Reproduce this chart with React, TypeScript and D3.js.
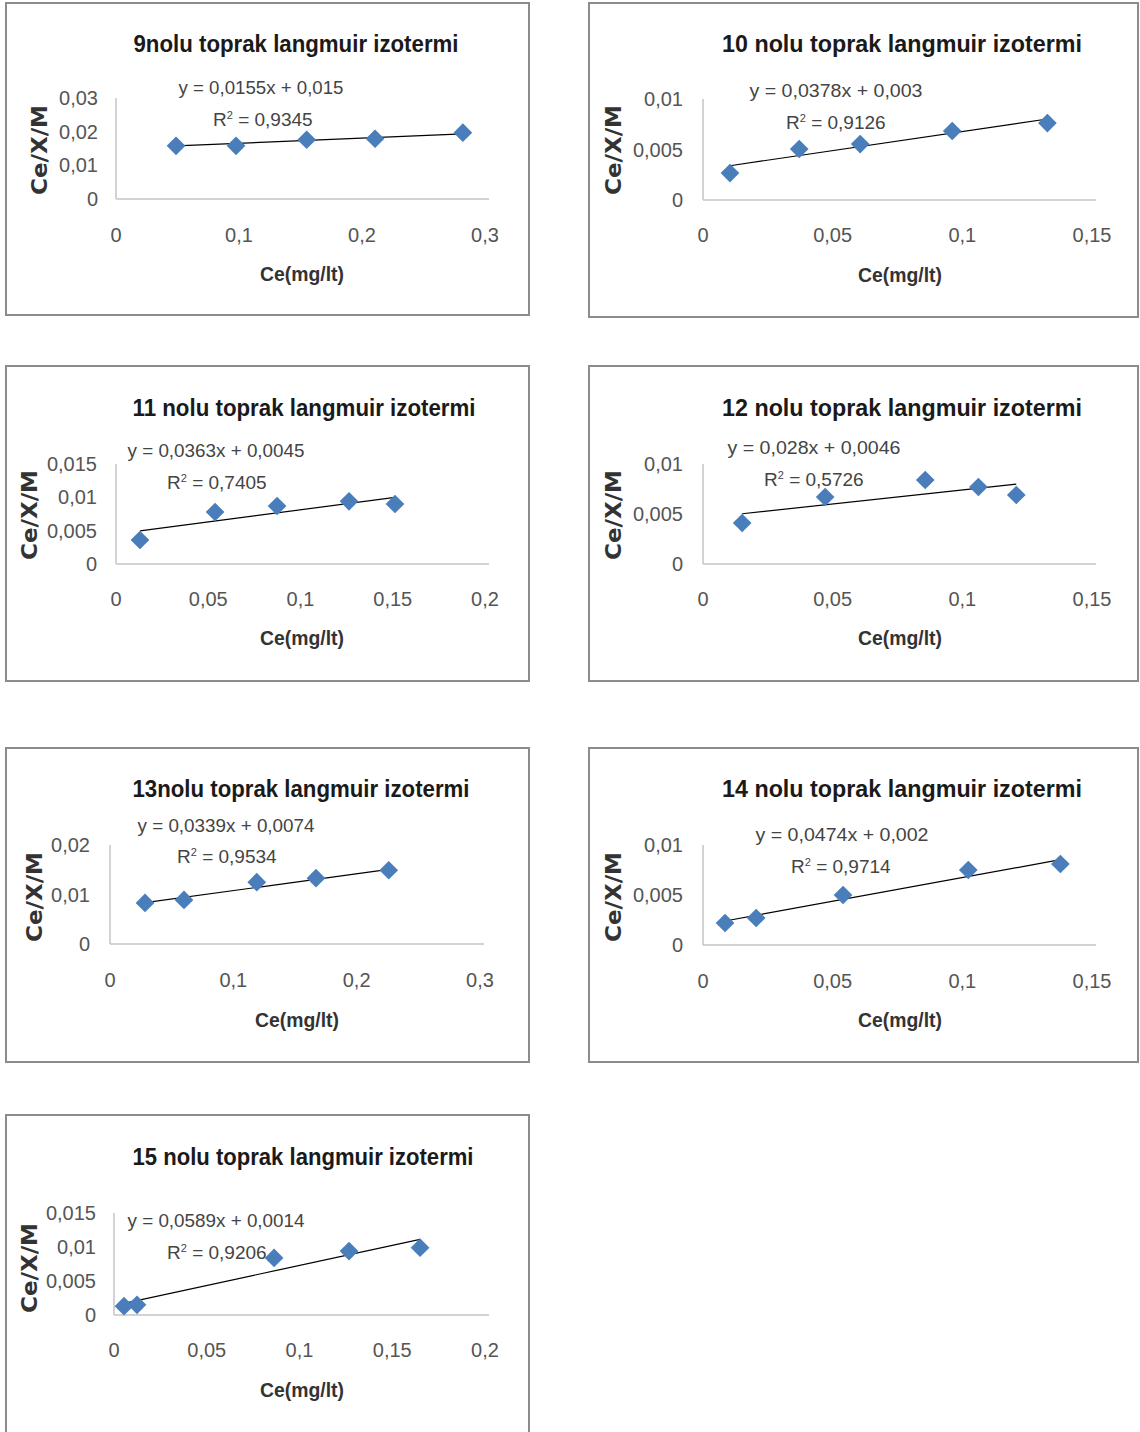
import React from 'react';
import * as d3 from 'd3';

// ---------- data ----------
const titles = [
  '9nolu toprak langmuir izotermi',
  '10 nolu toprak langmuir izotermi',
  '11 nolu toprak langmuir izotermi',
  '12 nolu toprak langmuir izotermi',
  '13nolu toprak langmuir izotermi',
  '14 nolu toprak langmuir izotermi',
  '15 nolu toprak langmuir izotermi',
];
const ceValues = [
  [0.0488, 0.0976, 0.155, 0.2106, 0.282],
  [0.0104, 0.0371, 0.0606, 0.0961, 0.1328],
  [0.013, 0.0537, 0.0873, 0.1263, 0.1512],
  [0.0151, 0.0471, 0.0857, 0.1062, 0.1208],
  [0.0284, 0.06, 0.119, 0.167, 0.226],
  [0.0085, 0.0205, 0.054, 0.1023, 0.1378],
  [0.0054, 0.0124, 0.0863, 0.1267, 0.165],
];
const qValues = [
  [0.0158, 0.0158, 0.0176, 0.0179, 0.0197],
  [0.00267, 0.00505, 0.00554, 0.00683, 0.00762],
  [0.0036, 0.0078, 0.0087, 0.0094, 0.009],
  [0.0041, 0.0067, 0.0084, 0.0077, 0.0069],
  [0.0083, 0.0089, 0.0125, 0.0133, 0.0149],
  [0.0022, 0.0027, 0.005, 0.0075, 0.0081],
  [0.0013, 0.0015, 0.0084, 0.0094, 0.0099],
];
const slopes = [0.0155, 0.0378, 0.0363, 0.028, 0.0339, 0.0474, 0.0589];
const intercepts = [0.015, 0.003, 0.0045, 0.0046, 0.0074, 0.002, 0.0014];
const r2Values = ['0,9345', '0,9126', '0,7405', '0,5726', '0,9534', '0,9714', '0,9206'];
const xTicks = [
  [0, 0.1, 0.2, 0.3],
  [0, 0.05, 0.1, 0.15],
  [0, 0.05, 0.1, 0.15, 0.2],
  [0, 0.05, 0.1, 0.15],
  [0, 0.1, 0.2, 0.3],
  [0, 0.05, 0.1, 0.15],
  [0, 0.05, 0.1, 0.15, 0.2],
];
const yTicks = [
  [0, 0.01, 0.02, 0.03],
  [0, 0.005, 0.01],
  [0, 0.005, 0.01, 0.015],
  [0, 0.005, 0.01],
  [0, 0.01, 0.02],
  [0, 0.005, 0.01],
  [0, 0.005, 0.01, 0.015],
];
const xAxisTitle = 'Ce(mg/lt)';
const yAxisTitle = 'Ce/X/M';

// ---------- layout (pixels) ----------
type Layout = {
  box: [number, number, number, number];
  plot: { l: number; r: number; t: number; b: number };
  title: [number, number, number];
  eq: [number, number, number];
  r2: [number, number, number];
  ylab: [number, number];
  xlab: [number, number];
  xTickY: number;
  yTickGap: number;
};
const layouts: Layout[] = [
  { box: [6, 3, 529, 315], plot: { l: 116, r: 485, t: 98, b: 199 }, title: [296, 44, 325], eq: [261, 88, 165], r2: [262, 120, 98], ylab: [40, 150], xlab: [302, 274], xTickY: 235, yTickGap: 18 },
  { box: [589, 3, 1138, 317], plot: { l: 703, r: 1092, t: 99, b: 200 }, title: [902, 44, 360], eq: [836, 91, 173], r2: [836, 123, 100], ylab: [614, 150], xlab: [900, 275], xTickY: 235, yTickGap: 20 },
  { box: [6, 366, 529, 681], plot: { l: 116, r: 485, t: 464, b: 564 }, title: [304, 408, 343], eq: [216, 451, 177], r2: [216, 483, 98], ylab: [30, 515], xlab: [302, 638], xTickY: 599, yTickGap: 19 },
  { box: [589, 366, 1138, 681], plot: { l: 703, r: 1092, t: 464, b: 564 }, title: [902, 408, 360], eq: [814, 448, 173], r2: [814, 480, 100], ylab: [614, 515], xlab: [900, 638], xTickY: 599, yTickGap: 20 },
  { box: [6, 748, 529, 1062], plot: { l: 110, r: 480, t: 845, b: 944 }, title: [301, 789, 337], eq: [226, 826, 177], r2: [226, 857, 98], ylab: [35, 897], xlab: [297, 1020], xTickY: 980, yTickGap: 20 },
  { box: [589, 748, 1138, 1062], plot: { l: 703, r: 1092, t: 845, b: 945 }, title: [902, 789, 360], eq: [842, 835, 173], r2: [842, 867, 102], ylab: [614, 897], xlab: [900, 1020], xTickY: 981, yTickGap: 20 },
  { box: [6, 1115, 529, 1460], plot: { l: 114, r: 485, t: 1213, b: 1315 }, title: [303, 1157, 341], eq: [216, 1221, 177], r2: [216, 1253, 98], ylab: [30, 1268], xlab: [302, 1390], xTickY: 1350, yTickGap: 18 },
];

const locale = d3.formatLocale({ decimal: ',', thousands: '.', grouping: [3], currency: ['', ''] });
const fmt = locale.format('~g');

const FONT = "'Liberation Sans Narrow', 'Liberation Sans', Arial, sans-serif";
const MARKER = '#4a7ebb';

function Panel({ i }: { i: number }) {
  const L = layouts[i];
  const xs = ceValues[i];
  const ys = qValues[i];
  const xt = xTicks[i];
  const yt = yTicks[i];
  const x = d3.scaleLinear().domain([0, xt[xt.length - 1]]).range([L.plot.l, L.plot.r]);
  const y = d3.scaleLinear().domain([0, yt[yt.length - 1]]).range([L.plot.b, L.plot.t]);
  const [xmin, xmax] = d3.extent(xs) as [number, number];
  const line = d3.line<number>().x((d) => x(d)).y((d) => y(slopes[i] * d + intercepts[i]));
  const diamond = d3.symbol().type(d3.symbolSquare).size(175)();
  const [bx0, by0, bx1, by1] = L.box;
  const eqText = `y = ${fmt(slopes[i])}x + ${fmt(intercepts[i])}`;
  return (
    <g>
      <rect x={bx0} y={by0} width={bx1 - bx0} height={by1 - by0} fill="#fff" stroke="#8c8c8c" strokeWidth={2} />
      <text x={L.title[0]} y={L.title[1] + 8} textAnchor="middle" fontSize={24} fontWeight="bold" fill="#1a1a1a"
        textLength={L.title[2]} lengthAdjust="spacingAndGlyphs" fontFamily={FONT}>{titles[i]}</text>
      {/* axes */}
      <line x1={L.plot.l} x2={L.plot.l} y1={L.plot.t} y2={L.plot.b} stroke="#c4c4c4" strokeWidth={1.5} />
      <line x1={L.plot.l} x2={L.plot.r + 4} y1={L.plot.b} y2={L.plot.b} stroke="#c4c4c4" strokeWidth={1.5} />
      {xt.map((t) => (
        <text key={'x' + t} x={x(t)} y={L.xTickY + 7} textAnchor="middle" fontSize={20} fill="#555" fontFamily={FONT}>{fmt(t)}</text>
      ))}
      {yt.map((t) => (
        <text key={'y' + t} x={L.plot.l - L.yTickGap} y={y(t) + 7} textAnchor="end" fontSize={20} fill="#555" fontFamily={FONT}>{fmt(t)}</text>
      ))}
      {/* axis titles */}
      <text x={L.xlab[0]} y={L.xlab[1] + 7} textAnchor="middle" fontSize={20} fontWeight="bold" fill="#333"
        textLength={84} lengthAdjust="spacingAndGlyphs" fontFamily={FONT}>{xAxisTitle}</text>
      <text transform={`translate(${L.ylab[0] + 7},${L.ylab[1]}) rotate(-90)`} textAnchor="middle" fontSize={21} fontWeight="bold"
        fill="#333" textLength={90} lengthAdjust="spacingAndGlyphs" fontFamily="'DejaVu Sans', Verdana, sans-serif">{yAxisTitle}</text>
      {/* trendline */}
      <path d={line([xmin, xmax]) || ''} fill="none" stroke="#000" strokeWidth={1.2} />
      {/* points */}
      {xs.map((v, k) => (
        <path key={k} d={diamond || ''} transform={`translate(${x(v)},${y(ys[k])}) rotate(45)`} fill={MARKER} />
      ))}
      {/* equation labels */}
      <text x={L.eq[0]} y={L.eq[1] + 6} textAnchor="middle" fontSize={19} fill="#444"
        textLength={L.eq[2]} lengthAdjust="spacingAndGlyphs" fontFamily={FONT}>{eqText}</text>
      <text x={L.r2[0] - L.r2[2] / 2} y={L.r2[1] + 6} fontSize={19} fill="#444" fontFamily={FONT}>
        R<tspan fontSize={11} dy={-7}>2</tspan><tspan dy={7}>{' = ' + r2Values[i]}</tspan>
      </text>
    </g>
  );
}

export default function App() {
  return (
    <svg width={1140} height={1432} style={{ position: 'absolute', left: 0, top: 0, background: '#fff' }}>
      <rect x={0} y={0} width={1140} height={1432} fill="#fff" />
      {titles.map((_, i) => (
        <Panel key={i} i={i} />
      ))}
    </svg>
  );
}
